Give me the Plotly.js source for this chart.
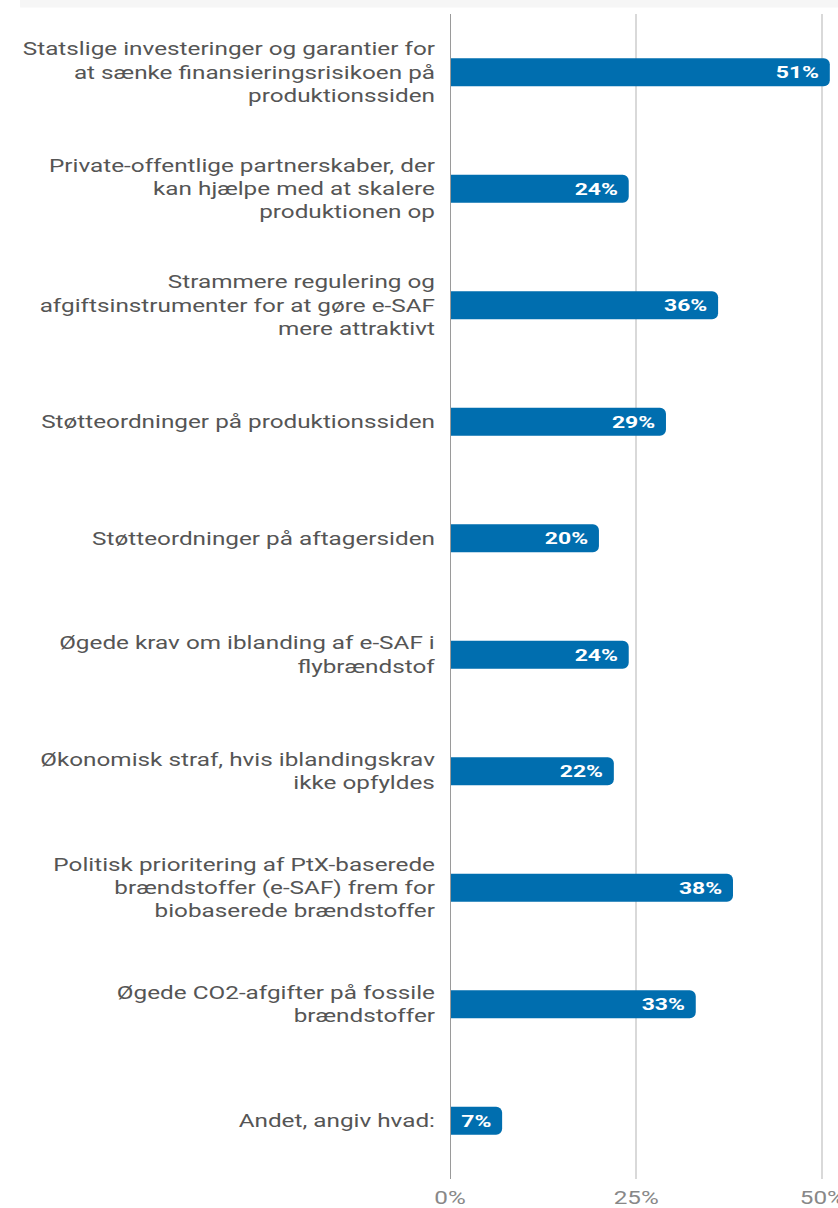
<!DOCTYPE html>
<html>
<head>
<meta charset="utf-8">
<script src="https://cdn.plot.ly/plotly-3.0.1.min.js"></script>
<style>
html,body{margin:0;padding:0;background:#fff;}
#chart{width:838px;height:1208px;}
</style>
</head>
<body>
<div id="chart"></div>
<script>
const categories = [
  "Statslige investeringer og garantier for<br>at sænke finansieringsrisikoen på<br>produktionssiden",
  "Private-offentlige partnerskaber, der<br>kan hjælpe med at skalere<br>produktionen op",
  "Strammere regulering og<br>afgiftsinstrumenter for at gøre e-SAF<br>mere attraktivt",
  "Støtteordninger på produktionssiden",
  "Støtteordninger på aftagersiden",
  "Øgede krav om iblanding af e-SAF i<br>flybrændstof",
  "Økonomisk straf, hvis iblandingskrav<br>ikke opfyldes",
  "Politisk prioritering af PtX-baserede<br>brændstoffer (e-SAF) frem for<br>biobaserede brændstoffer",
  "Øgede CO2-afgifter på fossile<br>brændstoffer",
  "Andet, angiv hvad:"
];
const values = [51, 24, 36, 29, 20, 24, 22, 38, 33, 7];
const tickVals = [0, 25, 50];
const tickText = ["0%", "25%", "50%"];

const trace = {
  type: "bar",
  orientation: "h",
  y: categories,
  x: values,
  marker: {color: "#006EAF", cornerradius: 6},
  texttemplate: "%{x}%",
  textposition: "inside",
  insidetextanchor: "end",
  textangle: 0,
  insidetextfont: {family: "Roboto, Arial, sans-serif", size: 17, color: "#ffffff", weight: 700},
  cliponaxis: false,
  hoverinfo: "none"
};

const layout = {
  width: 838,
  height: 1208,
  margin: {l: 450, r: 0, t: 14, b: 29, pad: 0},
  paper_bgcolor: "#ffffff",
  plot_bgcolor: "#ffffff",
  bargap: 0.76,
  showlegend: false,
  font: {family: "Roboto, Arial, sans-serif", color: "#555555", size: 18},
  xaxis: {
    range: [0, 52.1],
    tickvals: tickVals,
    ticktext: tickText,
    showgrid: true,
    gridcolor: "#d9d9d9",
    gridwidth: 2,
    zeroline: false,
    showline: false,
    ticks: "",
    tickfont: {size: 18, color: "#888888"},
    ticklabelstandoff: 6,
    ticklabeloverflow: "allow",
    fixedrange: true
  },
  yaxis: {
    autorange: "reversed",
    showgrid: false,
    zeroline: false,
    showline: false,
    ticks: "",
    ticklabelstandoff: 14,
    tickfont: {size: 18, color: "#555555"},
    fixedrange: true
  },
  shapes: [
    {type: "line", xref: "x", yref: "paper", x0: 0, x1: 0, y0: 0, y1: 1,
     line: {color: "#9a9a9a", width: 2}, layer: "above"},
    {type: "rect", xref: "paper", yref: "paper", x0: -1.108, x1: 1, y0: 1.0055, y1: 1.0125,
     fillcolor: "#f6f6f6", line: {width: 0}, layer: "below"}
  ]
};

// The reference text is rendered horizontally wider; stretch glyphs about their anchor.
function stretchText(selector, s, anchor, shift) {
  document.querySelectorAll(selector).forEach(function (el) {
    const b = el.getBBox();
    const ax = anchor === "end" ? b.x + b.width : (anchor === "middle" ? b.x + b.width / 2 : b.x);
    const t = el.getAttribute("transform") || "";
    el.setAttribute("transform",
      t + " translate(" + (ax + (shift || 0)) + ",0) scale(" + s + ",1) translate(" + (-ax) + ",0)");
  });
}

Plotly.newPlot("chart", [trace], layout, {displayModeBar: false, staticPlot: true}).then(function () {
  stretchText("#chart .ytick text", 1.35, "end", 0);
  stretchText("#chart .xtick text", 1.35, "middle", 0);
  stretchText("#chart text.bartext", 1.35, "end", -7);
});
</script>
</body>
</html>
